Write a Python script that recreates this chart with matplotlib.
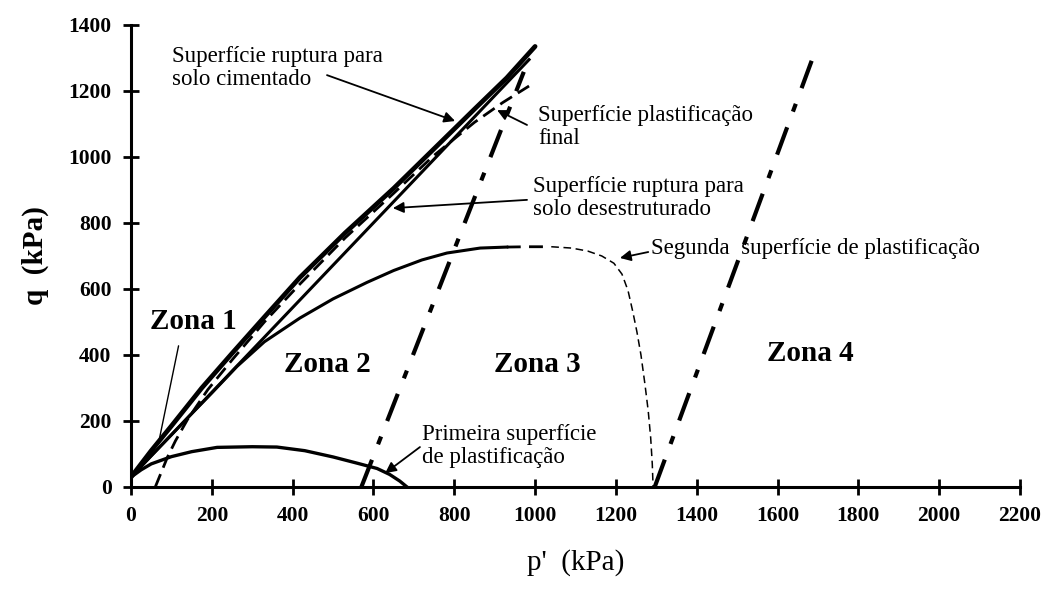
import matplotlib
matplotlib.use("Agg")
import matplotlib.pyplot as plt

plt.rcParams['font.family'] = ['Liberation Serif', 'DejaVu Serif']

# --- data (p' kPa, q kPa) ---
cem_p = [0, 50, 100, 175, 250, 330, 418, 530, 650, 750, 850, 930, 1000]
cem_q = [30, 110, 185, 300, 405, 515, 635, 770, 905, 1025, 1145, 1240, 1335]

des_p = [0, 985]
des_q = [30, 1295]

final_p = [60, 75, 90, 110, 140, 190, 250, 330, 418, 530, 650, 750, 850, 920, 985]
final_q = [0, 45, 90, 140, 205, 295, 385, 500, 615, 755, 890, 1005, 1105, 1165, 1215]

seg_solid_p = [0, 50, 100, 150, 200, 262, 330, 418, 500, 584, 650, 720, 782, 864, 930]
seg_solid_q = [30, 95, 158, 222, 285, 365, 440, 512, 570, 620, 656, 688, 709, 724, 727]

seg_thick_dash_p = [930, 980, 1040]
seg_thick_dash_q = [727, 728, 728]

seg_dash_p = [1040, 1090, 1130, 1165, 1195, 1215, 1230, 1242, 1252, 1262, 1272, 1280, 1286, 1290, 1292]
seg_dash_q = [728, 724, 715, 700, 678, 645, 595, 530, 470, 400, 310, 230, 150, 70, 0]

prim_p = [0, 25, 50, 100, 150, 213, 300, 361, 430, 500, 560, 609, 640, 665, 683]
prim_q = [30, 52, 70, 92, 107, 120, 122, 121, 110, 91, 72, 56, 38, 18, 0]

dd1_p = [570, 972]
dd1_q = [0, 1258]

dd2_p = [1296, 1690]
dd2_q = [0, 1310]

xticks = [0, 200, 400, 600, 800, 1000, 1200, 1400, 1600, 1800, 2000, 2200]
yticks = [0, 200, 400, 600, 800, 1000, 1200, 1400]

fig = plt.figure(figsize=(10.5, 5.89), dpi=100)
ax = fig.add_axes([0.1248, 0.1732, 0.8466, 0.7844])

k = 'black'
ax.plot(cem_p, cem_q, color=k, lw=3.4, solid_joinstyle='round', solid_capstyle='round')
ax.plot(des_p, des_q, color=k, lw=2.2)
ax.plot(final_p, final_q, color=k, lw=2.0, dashes=(5, 2.5))
ax.plot(seg_solid_p, seg_solid_q, color=k, lw=2.2, solid_joinstyle='round')
ax.plot(seg_thick_dash_p, seg_thick_dash_q, color=k, lw=2.0, dashes=(5, 3))
ax.plot(seg_dash_p, seg_dash_q, color=k, lw=1.1, dashes=(5, 3))
ax.plot(prim_p, prim_q, color=k, lw=2.4, solid_joinstyle='round')
ax.plot(dd1_p, dd1_q, color=k, lw=3.0, dashes=(7, 4, 2, 4))
ax.plot(dd2_p, dd2_q, color=k, lw=3.0, dashes=(7, 4, 2, 4))

ax.set_xlim(0, 2200)
ax.set_ylim(0, 1400)
ax.set_xticks(xticks)
ax.set_yticks(yticks)
for s in ['top', 'right']:
    ax.spines[s].set_visible(False)
for s in ['left', 'bottom']:
    ax.spines[s].set_linewidth(2.2)
ax.tick_params(direction='inout', length=12, width=2, pad=8)
for lab in ax.get_xticklabels() + ax.get_yticklabels():
    lab.set_fontweight('bold')
    lab.set_fontsize(15.5)

ax.set_xlabel("p'  (kPa)", fontsize=21, labelpad=16)
ax.set_ylabel("q  (kPa)", fontsize=21, fontweight='bold', labelpad=14)

tfs = 16.5
ax.text(101, 1270, "Superfície ruptura para\nsolo cimentado", fontsize=tfs,
        ha='left', va='center', linespacing=1.1)
ax.text(1007, 1091, "Superfície plastificação\nfinal", fontsize=tfs,
        ha='left', va='center', linespacing=1.1)
ax.text(995, 876, "Superfície ruptura para\nsolo desestruturado", fontsize=tfs,
        ha='left', va='center', linespacing=1.1)
ax.text(1287, 724, "Segunda  superfície de plastificação", fontsize=tfs,
        ha='left', va='center')
ax.text(720, 124, "Primeira superfície\nde plastificação", fontsize=tfs,
        ha='left', va='center', linespacing=1.1)

arw = dict(arrowstyle='-|>', color=k, lw=1.3, mutation_scale=16,
           shrinkA=0, shrinkB=0)
ax.annotate("", xy=(802, 1109), xytext=(485, 1248), arrowprops=arw)
ax.annotate("", xy=(906, 1142), xytext=(980, 1097), arrowprops=arw)
ax.annotate("", xy=(648, 845), xytext=(980, 870), arrowprops=arw)
ax.annotate("", xy=(1210, 694), xytext=(1280, 712), arrowprops=arw)
ax.annotate("", xy=(629, 42), xytext=(715, 121), arrowprops=arw)
ax.annotate("", xy=(67, 127), xytext=(119, 436),
            arrowprops=dict(arrowstyle='-', color=k, lw=1.0))

zfs = 21
ax.text(48, 500, "Zona 1", fontsize=zfs, fontweight='bold', ha='left', va='center')
ax.text(485, 372, "Zona 2", fontsize=zfs, fontweight='bold', ha='center', va='center')
ax.text(1005, 372, "Zona 3", fontsize=zfs, fontweight='bold', ha='center', va='center')
ax.text(1680, 403, "Zona 4", fontsize=zfs, fontweight='bold', ha='center', va='center')

fig.savefig("out.png", dpi=100)
